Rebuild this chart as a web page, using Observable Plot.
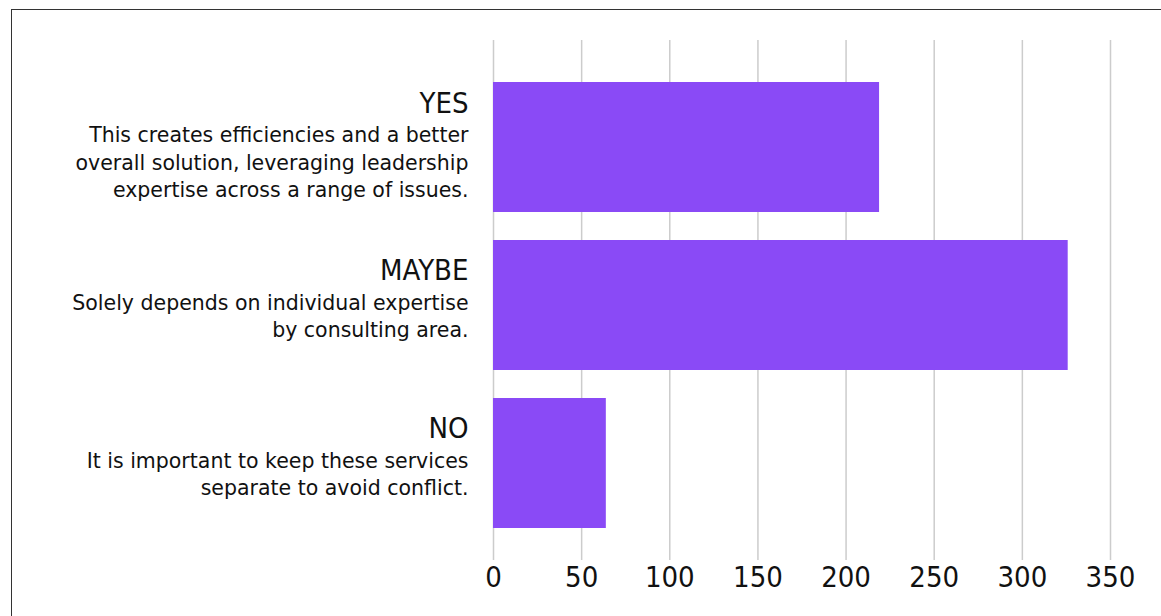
<!DOCTYPE html>
<html>
<head>
<meta charset="utf-8">
<script src="https://cdn.jsdelivr.net/npm/d3@7"></script>
<script src="https://cdn.jsdelivr.net/npm/@observablehq/plot@0.6"></script>
<style>
  html, body { margin: 0; padding: 0; background: #fff; }
  #wrap { position: relative; width: 1161px; height: 616px; overflow: hidden; }
  #frame { position: absolute; left: 11px; top: 9px; right: -5px; bottom: -5px;
           border-top: 1.5px solid #333; border-left: 1.5px solid #333; pointer-events: none; }
  #chart { position: absolute; left: 0; top: 0; }
</style>
</head>
<body>
<div id="wrap"><div id="chart"></div><div id="frame"></div></div>
<script>
const categories = ["YES", "MAYBE", "NO"];
const values = [219, 326, 64];
const descriptions = [
  ["This creates efficiencies and a better", "overall solution, leveraging leadership", "expertise across a range of issues."],
  ["Solely depends on individual expertise", "by consulting area."],
  ["It is important to keep these services", "separate to avoid conflict."]
];
const xTicks = [0, 50, 100, 150, 200, 250, 300, 350];

const data = categories.map((c, i) => ({category: c, value: values[i], desc: descriptions[i].join("\n"), lines: descriptions[i].length}));

const titleFont = "'Liberation Sans Narrow', 'DejaVu Sans Condensed', 'Roboto Condensed', Roboto, sans-serif";
const descFont = "'DejaVu Sans', 'Noto Sans', sans-serif";
const descLH = 27.5;
const descSize = 20.5;

const labelMarks = [];
data.forEach(d => {
  const shift = 4.5 * d.lines;
  labelMarks.push(Plot.text([d], {
    x: () => 0, y: "category", text: "desc",
    dx: -25, dy: shift, textAnchor: "end", lineAnchor: "middle",
    lineHeight: descLH / descSize, fontSize: descSize, fontFamily: descFont, fill: "#111"
  }));
  labelMarks.push(Plot.text([d], {
    x: () => 0, y: "category", text: "category",
    dx: -25, dy: shift - (d.lines - 1) / 2 * descLH - 30, textAnchor: "end", lineAnchor: "middle",
    fontSize: 29, fontFamily: titleFont, fill: "#111"
  }));
});

const chart = Plot.plot({
  width: 1161,
  height: 616,
  marginLeft: 493,
  marginRight: 51,
  marginTop: 68,
  marginBottom: 74,
  style: {background: "transparent", overflow: "visible"},
  x: {domain: [0, 350], ticks: xTicks, axis: null},
  y: {domain: categories, paddingInner: 0.177, paddingOuter: 0.0885, axis: null},
  marks: [
    Plot.ruleX(xTicks, {stroke: "#cccccc", strokeWidth: 1.5, insetTop: -28, insetBottom: -18}),
    Plot.barX(data, {x: "value", y: "category", fill: "#8a4af6"}),
    Plot.axisX(xTicks, {anchor: "bottom", label: null, tickSize: 0, tickPadding: 24, fontSize: 29, fontFamily: titleFont, fill: "#111"}),
    ...labelMarks
  ]
});
document.getElementById("chart").appendChild(chart);
</script>
</body>
</html>
